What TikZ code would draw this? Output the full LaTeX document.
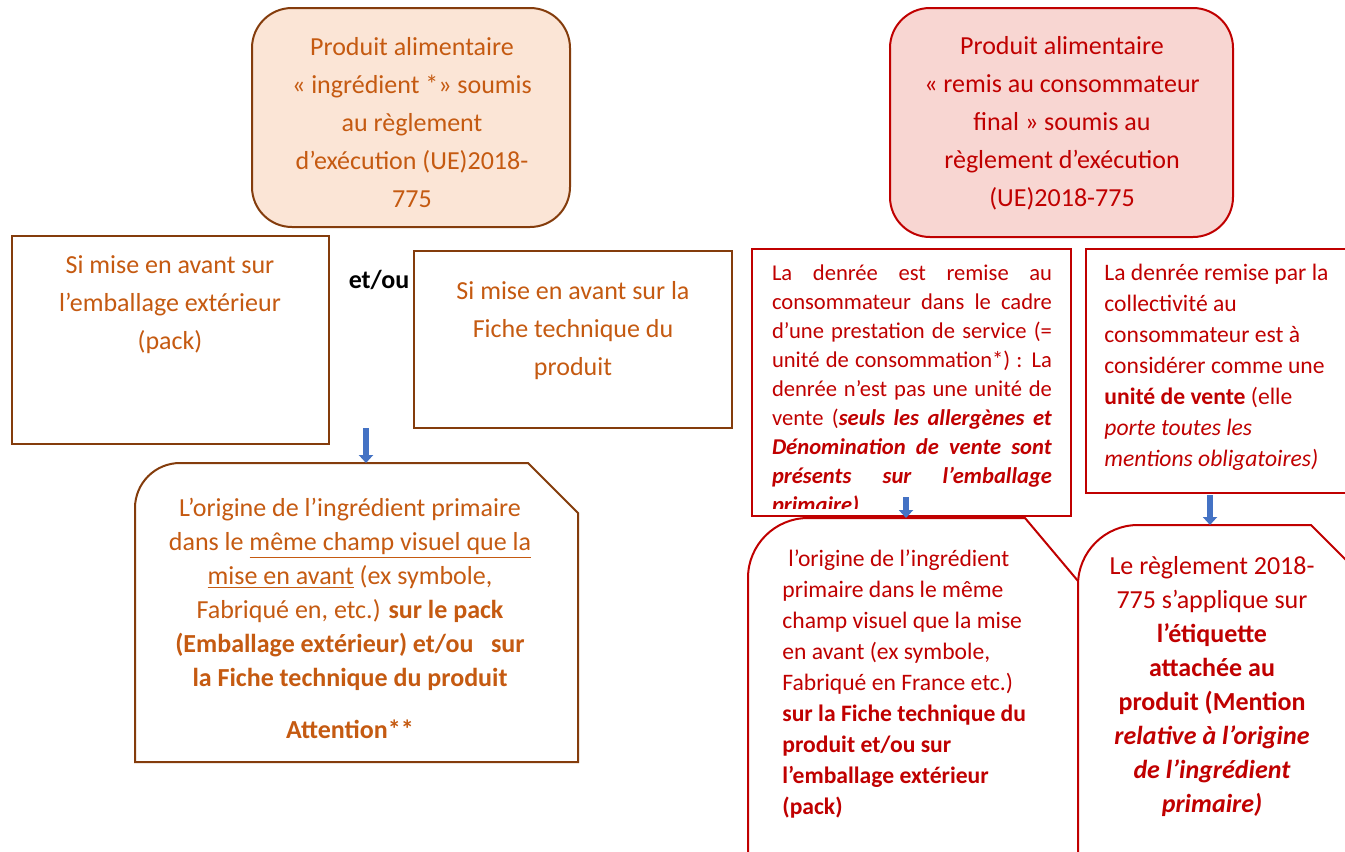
\documentclass[tikz,border=0pt]{standalone}
\usepackage{fontspec}
\setmainfont{Carlito}
\usepackage{xcolor}
\usetikzlibrary{calc,positioning,arrows.meta}

\definecolor{ingrBorder}{HTML}{843C0C}
\definecolor{ingrText}{HTML}{C55A11}
\definecolor{ingrFill}{HTML}{FBE5D6}
\definecolor{consoRed}{HTML}{C00000}
\definecolor{consoFill}{HTML}{F8D6D2}
\definecolor{arrowBlue}{HTML}{4472C4}

% one justified line of the service box
\newcommand{\jline}[1]{\makebox[140pt][s]{#1}}

\begin{document}
\begin{tikzpicture}[
        x=0.5pt, y=-0.5pt,
        >=Stealth,
        bigtext/.style={font=\fontsize{13}{19}\selectfont},
        calltext/.style={font=\fontsize{13}{17}\selectfont},
        smalltext/.style={font=\fontsize{11.8}{15.5}\selectfont},
        topbox/.style={
            rectangle,
            rounded corners=20pt,
            line width=1pt,
            inner sep=0pt
        },
        ingrbox/.style={topbox, draw=ingrBorder, fill=ingrFill},
        consobox/.style={topbox, draw=consoRed, fill=consoFill},
        framebox/.style={
            rectangle,
            line width=1pt,
            fill=white,
            inner sep=0pt
        },
        brownframe/.style={draw=ingrBorder, line width=1pt},
        redframe/.style={draw=consoRed, line width=1pt},
        ingrlabel/.style={text=ingrText, align=center, inner sep=0pt},
        conslabel/.style={text=consoRed, inner sep=0pt},
        arrow/.style={
            -{Triangle[width=7pt,length=4pt]},
            line width=3pt,
            arrowBlue
        }
    ]
    \useasboundingbox (0,0) rectangle (1345,852);
    \clip (0,0) rectangle (1345,852);
    \fill[white] (0,0) rectangle (1345,852);

    % Top boxes
    \node[ingrbox, minimum width=159pt, minimum height=109.5pt] (prodA) at (411,117.5) {};
    \node[ingrlabel, bigtext] (prodAtext) at (412,122.5)
        {Produit alimentaire\\« ingrédient *» soumis\\au règlement\\d’exécution (UE)2018-\\775};

    \node[consobox, minimum width=171.5pt, minimum height=114.5pt] (prodB) at (1061.5,122.5) {};
    \node[conslabel, align=center, bigtext] (prodBtext) at (1062,123)
        {Produit alimentaire\\« remis au consommateur\\final » soumis au\\règlement d’exécution\\(UE)2018-775};

    % Left branch
    \node[framebox, brownframe, minimum width=158.5pt, minimum height=104pt] (packbox) at (170.5,340) {};
    \node[ingrlabel, bigtext] (packtext) at (170,305)
        {Si mise en avant sur\\l’emballage extérieur\\(pack)};

    \node[framebox, brownframe, minimum width=159pt, minimum height=88.5pt] (fichebox) at (573,339.5) {};
    \node[ingrlabel, bigtext] (fichetext) at (573,330.5)
        {Si mise en avant sur la\\Fiche technique du\\produit};

    \node[font=\fontsize{13}{19}\selectfont\bfseries, inner sep=0pt] (etou) at (379,280) {et/ou};

    % Right branch
    \node[framebox, redframe, minimum width=159.5pt, minimum height=133.5pt] (servicebox) at (911.5,382.5) {};
    \begin{scope}
        \clip (servicebox.north west) rectangle ($(servicebox.south east)+(0,-9)$);
        \node[conslabel, align=flush left, text width=140pt, font=\fontsize{11.3}{14.5}\selectfont] (servicetext) at (912,390)
            {\jline{La denrée est remise au}\\\jline{consommateur dans le cadre}\\
            \jline{d’une prestation de service (=}\\\jline{unité de consommation*) : La}\\
            \jline{denrée n’est pas une unité de}\\\jline{vente (\textbf{\textit{seuls les allergènes et}}}\\
            \jline{\textbf{\textit{Dénomination de vente sont}}}\\\jline{\textbf{\textit{présents sur l’emballage}}}\\
            \textbf{\textit{primaire)}}};
    \end{scope}

    \node[framebox, redframe, minimum width=167pt, minimum height=122pt] (ventebox) at (1253,371) {};
    \node[conslabel, align=flush left, text width=130pt, smalltext, anchor=west] (ventetext) at (1104,367)
        {La denrée remise par la\\collectivité au\\consommateur est à\\considérer comme une\\
        \textbf{unité de vente} (elle\\\textit{porte toutes les}\\\textit{mentions obligatoires)}};

    % Callouts
    \coordinate (origAnw) at (135,463);
    \coordinate (origAse) at (578,762);
    \draw[brownframe, fill=white] (origAnw |- origAse) -- ($(origAnw)+(0,45)$)
        arc[start angle=180, end angle=90, radius=22.5pt]
        -- ($(origAnw -| origAse)+(-50,0)$) -- ($(origAnw -| origAse)+(0,50)$)
        -- (origAse) -- cycle;
    \node[ingrlabel, calltext] (origAtext) at (350,618)
        {L’origine de l’ingrédient primaire\\
        dans le \underline{même champ visuel que la}\\
        \underline{mise en avant} (ex symbole,\\
        Fabriqué en, etc.) \textbf{sur le pack}\\
        \textbf{(Emballage extérieur) et/ou\ \ \ sur}\\
        \textbf{la Fiche technique du produit}\\[9pt]
        \textbf{Attention**}};

    \coordinate (origBnw) at (748,518);
    \coordinate (origBse) at (1078,900);
    \draw[redframe, fill=white] (origBnw |- origBse) -- ($(origBnw)+(0,60)$)
        arc[start angle=180, end angle=90, radius=30pt]
        -- ($(origBnw -| origBse)+(-53,0)$) -- ($(origBnw -| origBse)+(0,63)$)
        -- (origBse) -- cycle;
    \node[conslabel, align=flush left, text width=140pt, smalltext, anchor=west] (origBtext) at (782,684)
        {\hspace{3pt}l’origine de l’ingrédient\\primaire dans le même\\champ visuel que la mise\\
        en avant (ex symbole,\\Fabriqué en France etc.)\\\textbf{sur la Fiche technique du}\\
        \textbf{produit et/ou sur}\\\textbf{l’emballage extérieur}\\\textbf{(pack)}};

    \coordinate (origCnw) at (1078,525);
    \coordinate (origCse) at (1366,900);
    \draw[redframe, fill=white] (origCnw |- origCse) -- ($(origCnw)+(0,60)$)
        arc[start angle=180, end angle=90, radius=30pt]
        -- ($(origCnw -| origCse)+(-55,0)$) -- ($(origCnw -| origCse)+(0,55)$)
        -- (origCse) -- cycle;
    \node[conslabel, align=center, calltext] (origCtext) at (1212,687)
        {Le règlement 2018-\\775 s’applique sur\\\textbf{l’étiquette}\\\textbf{attachée au}\\
        \textbf{produit (Mention}\\\textbf{\textit{relative à l’origine}}\\
        \textbf{\textit{de l’ingrédient}}\\\textbf{\textit{primaire)}}};

    % Arrows
    \coordinate (packarrow) at (366,428);
    \coordinate (servarrow) at (906,497);
    \coordinate (ventearrow) at (1210,495);
    \draw[arrow] (packarrow) -- (packarrow |- origAnw);
    \draw[arrow] (servarrow) -- (servarrow |- origBnw);
    \draw[arrow] (ventearrow) -- (ventearrow |- origCnw);

\end{tikzpicture}
\end{document}
